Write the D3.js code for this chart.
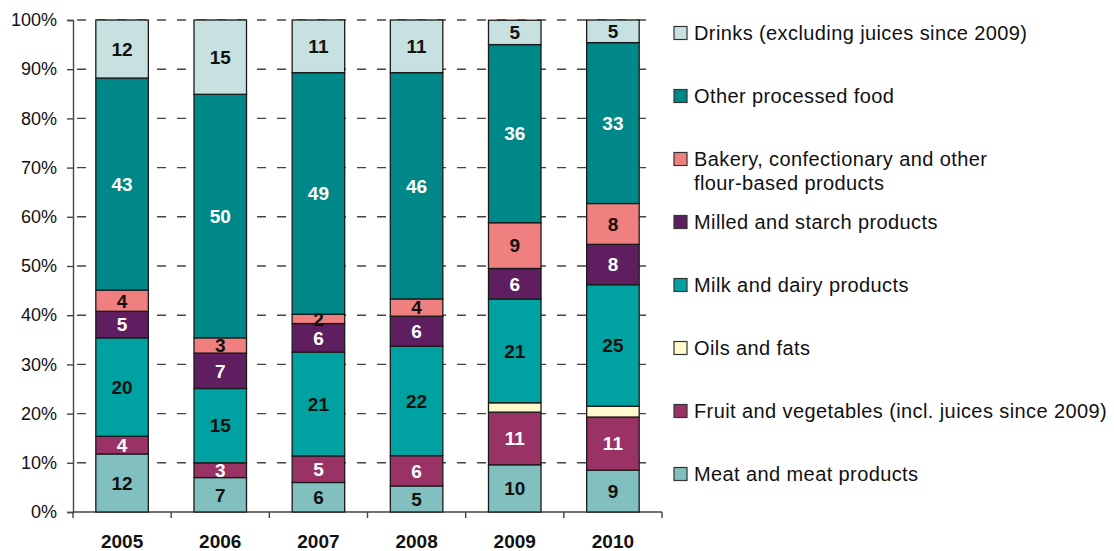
<!DOCTYPE html>
<html>
<head>
<meta charset="utf-8">
<script src="https://cdn.jsdelivr.net/npm/d3@7"></script>
<style>
  body { margin: 0; background: #fff; }
  text { font-family: "Liberation Sans", Arial, sans-serif; }
</style>
</head>
<body>
<svg width="1114" height="551"></svg>
<script>
// categories
const years = ["2005", "2006", "2007", "2008", "2009", "2010"];

// series values (share in %), bottom to top
const meat   = [11.8, 7.0, 6.0, 5.3, 9.6, 8.5];
const fruit  = [3.6, 3.0, 5.4, 6.15, 10.7, 10.8];
const oils   = [0, 0, 0, 0, 1.9, 2.2];
const milk   = [20.0, 15.1, 21.1, 22.25, 21.1, 24.7];
const milled = [5.4, 7.2, 5.8, 6.1, 6.2, 8.2];
const bakery = [4.3, 3.1, 1.9, 3.5, 9.3, 8.3];
const other  = [43.1, 49.5, 49.1, 46.0, 36.2, 32.7];
const drinks = [11.8, 15.1, 10.7, 10.7, 4.95, 4.6];

// series names (legend order is top to bottom of the stack)
const names = {
  meat: "Meat and meat products",
  fruit: "Fruit and vegetables (incl. juices since 2009)",
  oils: "Oils and fats",
  milk: "Milk and dairy products",
  milled: "Milled and starch products",
  bakery: "Bakery, confectionary and other|flour-based products",
  other: "Other processed food",
  drinks: "Drinks (excluding juices since 2009)"
};

// y tick labels
const yTicks = [0, 10, 20, 30, 40, 50, 60, 70, 80, 90, 100];

const keys = ["meat", "fruit", "oils", "milk", "milled", "bakery", "other", "drinks"];
const colors = {
  meat: "#82bfbf", fruit: "#993366", oils: "#fff9cc", milk: "#00a1a1",
  milled: "#5f1e5f", bakery: "#f08080", other: "#008787", drinks: "#c7e1e0"
};
const whiteText = { fruit: true, milled: true, other: true };

const series = { meat, fruit, oils, milk, milled, bakery, other, drinks };
const table = years.map((y, i) => {
  const row = { year: y };
  keys.forEach(k => row[k] = series[k][i]);
  return row;
});

const svg = d3.select("svg");
const x0 = 73, x1 = 662, yTop = 20, yBot = 512;

const x = d3.scaleBand().domain(years).range([x0, x1]).paddingInner(0.465).paddingOuter(0.2325);
const y = d3.scaleLinear().domain([0, 100]).range([yBot, yTop]);

// dashed gridlines
svg.append("g")
  .selectAll("line")
  .data(yTicks.filter(d => d > 0))
  .join("line")
    .attr("x1", x0).attr("x2", x1 - 6)
    .attr("y1", d => y(d)).attr("y2", d => y(d))
    .attr("stroke", "#444")
    .attr("stroke-width", 1.4)
    .attr("stroke-dasharray", "9,11")
    .attr("stroke-dashoffset", -4);

// y axis
const yAxis = svg.append("g")
  .attr("transform", "translate(" + x0 + ",0)")
  .call(d3.axisLeft(y).tickValues(yTicks).tickSize(6).tickPadding(10).tickFormat(d => d + "%"));
yAxis.select(".domain").attr("stroke", "#444").attr("stroke-width", 1.4);
yAxis.selectAll(".tick line").attr("stroke", "#444").attr("stroke-width", 1.4);
yAxis.selectAll(".tick text").attr("font-size", "18px").attr("fill", "#111")
  .style("font-family", "'Liberation Sans', Arial, sans-serif");

// x axis
svg.append("line")
  .attr("x1", x0).attr("x2", x1).attr("y1", yBot).attr("y2", yBot)
  .attr("stroke", "#444").attr("stroke-width", 1.4);
svg.append("g")
  .selectAll("line")
  .data(d3.range(years.length + 1))
  .join("line")
    .attr("x1", i => x0 + i * x.step()).attr("x2", i => x0 + i * x.step())
    .attr("y1", yBot).attr("y2", yBot + 6)
    .attr("stroke", "#444").attr("stroke-width", 1.4);
svg.append("g")
  .selectAll("text")
  .data(years)
  .join("text")
    .attr("x", d => x(d) + x.bandwidth() / 2)
    .attr("y", 548)
    .attr("text-anchor", "middle")
    .attr("font-size", "19px")
    .attr("font-weight", "bold")
    .attr("fill", "#111")
    .text(d => d);

// stacked bars
const stacked = d3.stack().keys(keys)(table);

const layers = svg.append("g")
  .selectAll("g")
  .data(stacked)
  .join("g")
    .attr("fill", d => colors[d.key]);

layers.selectAll("rect")
  .data(d => d.filter(s => s[1] - s[0] > 0))
  .join("rect")
    .attr("x", d => x(d.data.year))
    .attr("y", d => y(d[1]))
    .attr("width", x.bandwidth())
    .attr("height", d => y(d[0]) - y(d[1]))
    .attr("stroke", "#1a1a1a")
    .attr("stroke-width", 1.3);

// value labels (no labels for oils and fats)
svg.append("g")
  .selectAll("g")
  .data(stacked.filter(d => d.key !== "oils"))
  .join("g")
  .each(function(layer) {
    d3.select(this).selectAll("text")
      .data(layer)
      .join("text")
        .attr("x", d => x(d.data.year) + x.bandwidth() / 2)
        .attr("y", d => y((d[0] + d[1]) / 2))
        .attr("dy", "0.36em")
        .attr("text-anchor", "middle")
        .attr("font-size", "19px")
        .attr("font-weight", "bold")
        .attr("fill", whiteText[layer.key] ? "#fff" : "#111")
        .text(d => Math.round(d[1] - d[0]));
  });

// legend
const legendKeys = keys.slice().reverse();
const legend = svg.append("g")
  .selectAll("g")
  .data(legendKeys)
  .join("g")
    .attr("transform", (d, i) => "translate(674," + (33 + i * 63) + ")");

legend.append("rect")
  .attr("x", 0).attr("y", -6.5)
  .attr("width", 13).attr("height", 13)
  .attr("fill", d => colors[d])
  .attr("stroke", "#333")
  .attr("stroke-width", 1.2);

legend.append("text")
  .attr("x", 20)
  .attr("font-size", "20px")
  .attr("letter-spacing", "0.4px")
  .attr("fill", "#111")
  .each(function(d) {
    const lines = names[d].split("|");
    d3.select(this).selectAll("tspan")
      .data(lines)
      .join("tspan")
        .attr("x", 20)
        .attr("y", (l, j) => j * 24)
        .attr("dy", "0.36em")
        .text(l => l);
  });
</script>
</body>
</html>
